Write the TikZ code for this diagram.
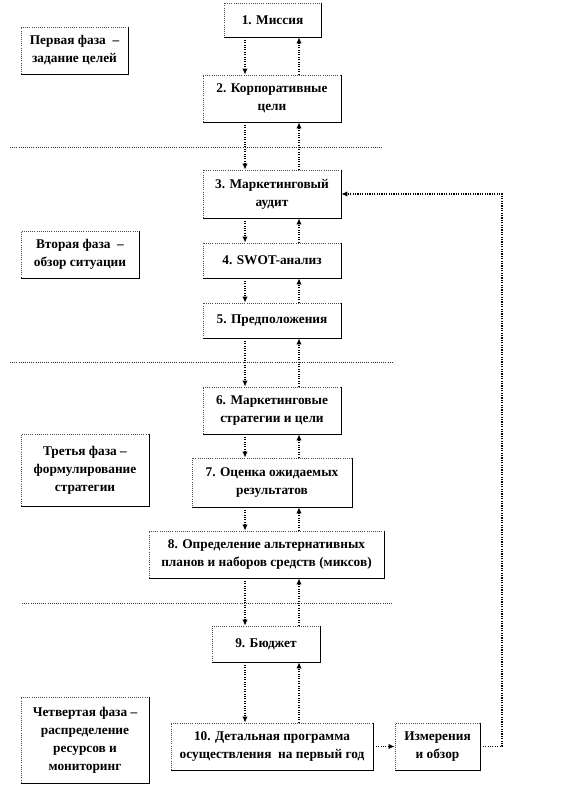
\documentclass[tikz,border=0pt]{standalone}
\usepackage{fontspec}
\setmainfont{Liberation Serif}
\usetikzlibrary{arrows.meta}
\begin{document}
\begin{tikzpicture}[x=0.75pt,y=-0.75pt,
  stepbox/.style={draw=black!70, densely dotted, line width=0.6pt, align=center, inner sep=1pt,
    font=\fontsize{10}{13.5}\selectfont\bfseries, text=black},
  shadowline/.style={draw=black, line width=0.8pt},
  conn/.style={draw=black, densely dotted, line width=0.8pt, -{Latex[length=4.5pt,width=4pt]}},
  sep/.style={draw=black!80, densely dotted, line width=0.6pt}]
\useasboundingbox (0,0) rectangle (588,795);
% main boxes
\node[stepbox, minimum width=72.75pt, minimum height=25.5pt] (b1) at (272.5,20) {1. Миссия};
\node[stepbox, minimum width=103.5pt, minimum height=35.25pt] (b2) at (272,98.5) {2. Корпоративные\\цели};
\node[stepbox, minimum width=103.5pt, minimum height=36pt] (b3) at (272,194) {3. Маркетинговый\\аудит};
\node[stepbox, minimum width=103.5pt, minimum height=26.25pt] (b4) at (272,260.5) {4. SWOT-анализ};
\node[stepbox, minimum width=103.5pt, minimum height=26.25pt] (b5) at (272,320.5) {5. Предположения};
\node[stepbox, minimum width=103.5pt, minimum height=35.25pt] (b6) at (272,410.5) {6. Маркетинговые\\стратегии и цели};
\node[stepbox, minimum width=120pt, minimum height=36.75pt] (b7) at (272,482.5) {7. Оценка ожидаемых\\результатов};
\node[stepbox, minimum width=176.25pt, minimum height=35.25pt] (b8) at (266.5,554.5) {8. Определение альтернативных\\планов и наборов средств (миксов)};
\node[stepbox, minimum width=81pt, minimum height=27pt] (b9) at (266,644) {9. Бюджет};
\node[stepbox, minimum width=151.5pt, minimum height=35.25pt] (b10) at (272,746.5) {10. Детальная программа\\осуществления\ \ на первый год};
\node[stepbox, minimum width=63.75pt, minimum height=35.25pt] (bm) at (437.5,746.5) {Измерения\\и обзор};
% phase boxes
\node[stepbox, minimum width=80.25pt, minimum height=35.25pt] (p1) at (74.5,50.5) {Первая фаза\ \ –\\задание целей};
\node[stepbox, minimum width=88.5pt, minimum height=35.25pt] (p2) at (80,254.5) {Вторая фаза\ \ –\\обзор ситуации};
\node[stepbox, minimum width=96pt, minimum height=54pt] (p3) at (85,470) {Третья\ фаза –\\формулирование\\стратегии};
\node[stepbox, minimum width=96pt, minimum height=64.5pt] (p4) at (85,740) {Четвертая фаза –\\распределение\\ресурсов и\\мониторинг};
% shadows (right and bottom edges)
\foreach \n in {b1,b2,b3,b4,b5,b6,b7,b8,b9,b10,bm,p1,p2,p3,p4}
  \draw[shadowline] (\n.north east) -- (\n.south east) -- (\n.south west);
% column coordinates
\coordinate (dL) at (245,0);
\coordinate (uR) at (299,0);
\coordinate (fb) at (502,0);
% down and up connectors
\foreach \a/\b in {b1/b2,b2/b3,b3/b4,b4/b5,b5/b6,b6/b7,b7/b8,b8/b9,b9/b10}{
  \draw[conn] (\a.south -| dL) -- (\b.north -| dL);
  \draw[conn] (\b.north -| uR) -- (\a.south -| uR);
}
% to measurement and feedback
\draw[conn] (b10.east) -- (bm.west);
\draw[conn] (bm.east) -- (bm.east -| fb) -- (b3.east -| fb) -- (b3.east);
% phase separators
\draw[sep] (10,147) -- (382,147);
\draw[sep] (10,362) -- (392,362);
\draw[sep] (22,603) -- (392,603);
\end{tikzpicture}
\end{document}
